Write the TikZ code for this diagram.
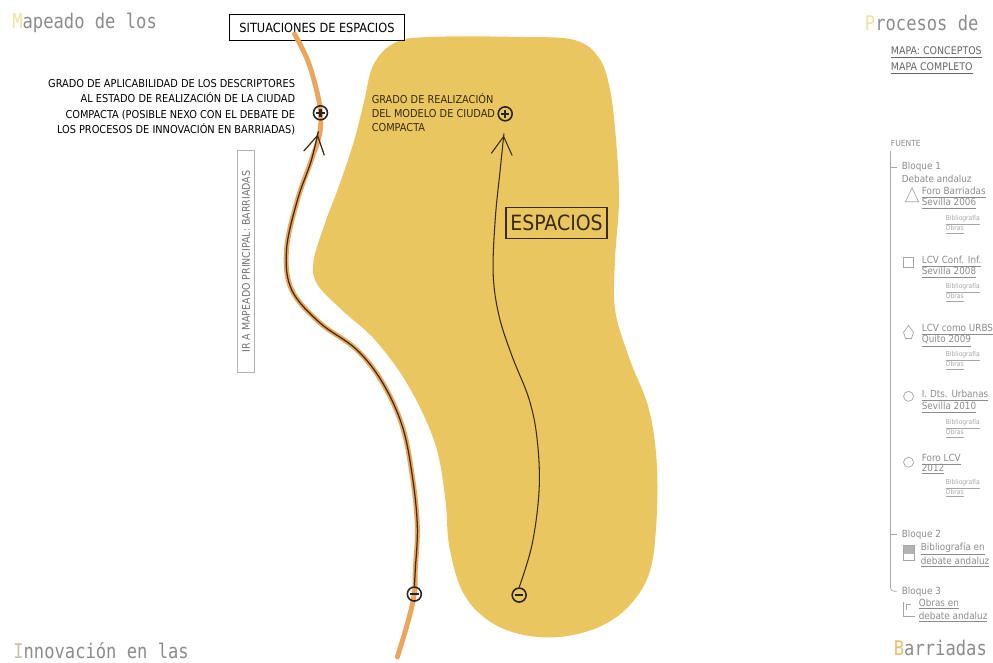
\documentclass[tikz,border=0pt]{standalone}
\usepackage{fontspec}
\newfontfamily\techfont{DejaVu Sans Condensed}
\newfontfamily\titlefont[FakeStretch=0.85]{DejaVu Sans Mono}
\usetikzlibrary{arrows.meta,positioning}
\definecolor{blobyellow}{RGB}{233,198,96}
\definecolor{bandorange}{RGB}{236,166,92}
\definecolor{inkbrown}{RGB}{58,42,16}
\definecolor{titlegray}{RGB}{140,140,140}
\definecolor{initpale}{RGB}{238,226,160}
\definecolor{initgold}{RGB}{236,190,104}
\definecolor{initgray}{RGB}{200,193,165}

\begin{document}
\begin{tikzpicture}[x=0.02cm, y=-0.02cm,
  >={Straight Barb[length=3.6mm,width=4.2mm]},
  title/.style={font=\titlefont\fontsize{11.5}{12}\selectfont, text=titlegray, inner sep=0pt, anchor=base west},
  tag/.style={draw=black, line width=0.8pt, font=\techfont\fontsize{7.2}{8}\selectfont, inner sep=0pt, minimum width=3.5cm, minimum height=0.52cm},
  hint/.style={font=\techfont\fontsize{6.2}{8.8}\selectfont, inner sep=0pt},
  sign/.style={circle, draw=black!85, line width=0.9pt, minimum size=0.28cm, inner sep=0pt},
  signplus/.style={sign, path picture={\draw[line width=1.4pt, black!85]
    ([xshift=-0.085cm]path picture bounding box.center) -- ([xshift=0.085cm]path picture bounding box.center)
    ([yshift=-0.085cm]path picture bounding box.center) -- ([yshift=0.085cm]path picture bounding box.center);}},
  signminus/.style={sign, path picture={\draw[line width=1.4pt, black!85]
    ([xshift=-0.085cm]path picture bounding box.center) -- ([xshift=0.085cm]path picture bounding box.center);}},
  band/.style={line width=2.8pt, bandorange, line cap=round},
  flow/.style={->, line width=0.7pt, inkbrown},
  side/.style={font=\techfont\fontsize{5.6}{6.2}\selectfont, text=black!45, inner sep=0pt, anchor=base west},
  subline/.style={font=\techfont\fontsize{3.8}{5.7}\selectfont, text=black!35, inner sep=0pt, anchor=base west},
  icon/.style={draw=black!35, line width=0.4pt},
  tree/.style={draw=black!35, line width=0.4pt},
]
  \path[fill=white] (0,0) rectangle (993,664);

  \node[title] (tmap) at (12,29) {\textcolor{initpale}{M}apeado de los};
  \node[title] (tproc) at (866,31) {\textcolor{initpale}{P}rocesos de};
  \node[title] (tinno) at (13,660) {\textcolor{initgray}{I}nnovación en las};
  \node[title] (tbarr) at (895,657) {\textcolor{initgold}{B}arriadas};

  \fill[blobyellow] plot[smooth cycle, tension=0.6] coordinates {(430,37) (520,37) (575,40) (600,58) (611,90) (617,140) (620,200) (616,260) (616,310) (630,358) (650,410) (658,467) (657,530) (650,575) (630,607) (600,628) (560,638) (520,635) (487,620) (463,592) (450,547) (446,500) (436,445) (410,388) (377,342) (343,311) (318,285) (314,262) (325,225) (340,185) (355,140) (365,100) (374,65) (395,43)};

  \node[tag] (sit) at (317.5,27.5) {SITUACIONES DE ESPACIOS};
  \draw[band] plot[smooth, tension=0.6] coordinates {(295,34) (308,60) (317,90) (321,113) (320,135) (312,160) (298,200) (287,250) (292,290) (320,323) (357,350) (383,383) (403,427) (413,477) (418,527) (416,570) (415,595) (408,625) (398,658)};

  \node[signplus] (p1) at (321,113) {};
  \node[signplus] (p2) at (506,114) {};
  \node[signminus] (m1) at (415,595) {};
  \node[signminus] (m2) at (520,596) {};

  \draw[flow, shorten >=0.28cm] plot[smooth, tension=0.6] coordinates {(m1.north) (416,570) (418,527) (413,477) (403,427) (383,383) (357,350) (320,323) (292,290) (287,250) (298,200) (312,160) (p1.south)};
  \draw[flow, line width=0.6pt, shorten >=0.28cm] plot[smooth, tension=0.6] coordinates {(m2.north) (533,545) (540,490) (538,440) (530,400) (513,357) (500,317) (494,275) (496,220) (501,170) (p2.south)};

  \node[hint, anchor=north east, align=right, text=black] (apl) at (296,79) {GRADO DE APLICABILIDAD DE LOS DESCRIPTORES\\AL ESTADO DE REALIZACIÓN DE LA CIUDAD\\COMPACTA (POSIBLE NEXO CON EL DEBATE DE\\LOS PROCESOS DE INNOVACIÓN EN BARRIADAS)};
  \node[hint, anchor=north west, align=left, text=inkbrown, font=\techfont\fontsize{6.2}{7.9}\selectfont] (real) at (372,93) {GRADO DE REALIZACIÓN\\DEL MODELO DE CIUDAD\\COMPACTA};
  \node[tag, draw=inkbrown, text=inkbrown, font=\techfont\fontsize{12}{14}\selectfont, minimum width=2.02cm, minimum height=0.62cm] (esp) at (557.5,223.5) {ESPACIOS};
  \node[draw=black!30, line width=0.5pt, text=black!55, font=\techfont\fontsize{6}{7}\selectfont, rotate=90, minimum width=4.46cm, minimum height=0.34cm, inner sep=0pt] (back) at (246.5,262) {IR A MAPEADO PRINCIPAL: BARRIADAS};

  \node[side, font=\techfont\fontsize{6}{7}\selectfont, text=black!60] (mapc) at (892,55) {\underline{MAPA: CONCEPTOS}};
  \node[side, font=\techfont\fontsize{6}{7}\selectfont, text=black!60] (mapf) at (892,71) {\underline{MAPA COMPLETO}};
  \node[side, font=\techfont\fontsize{4.8}{6}\selectfont] (fuente) at (892,147) {FUENTE};
  \node[side] (b1) at (903,170) {Bloque 1};
  \node[side] (deb) at (903,183) {Debate andaluz};

  \draw[icon] (907,202) -- (913.5,188) -- (920,202) -- cycle;
  \node[side] (i1a) at (923,195) {\underline{Foro Barriadas}};
  \node[side] (i1b) at (923,206) {\underline{Sevilla 2006}};
  \node[subline] (i1c) at (947,221) {\underline{Bibliografía}};
  \node[subline] (i1d) at (947,231) {\underline{Obras}};

  \draw[icon] (905,258) rectangle (915,268);
  \node[side] (i2a) at (923,264) {\underline{LCV Conf. Inf.}};
  \node[side] (i2b) at (923,275) {\underline{Sevilla 2008}};
  \node[subline] (i2c) at (947,289) {\underline{Bibliografía}};
  \node[subline] (i2d) at (947,299) {\underline{Obras}};

  \draw[icon] (905,333) -- (910,326) -- (915,333) -- (913,339) -- (907,339) -- cycle;
  \node[side] (i3a) at (923,332) {\underline{LCV como URBS}};
  \node[side] (i3b) at (923,343) {\underline{Quito 2009}};
  \node[subline] (i3c) at (947,357) {\underline{Bibliografía}};
  \node[subline] (i3d) at (947,367) {\underline{Obras}};

  \draw[icon] (910,397) circle[radius=5];
  \node[side] (i4a) at (923,398) {\underline{I. Dts. Urbanas}};
  \node[side] (i4b) at (923,410) {\underline{Sevilla 2010}};
  \node[subline] (i4c) at (947,425) {\underline{Bibliografía}};
  \node[subline] (i4d) at (947,435) {\underline{Obras}};

  \draw[icon] (910,463) circle[radius=5];
  \node[side] (i5a) at (923,462) {\underline{Foro LCV}};
  \node[side] (i5b) at (923,472) {\underline{2012}};
  \node[subline] (i5c) at (947,485) {\underline{Bibliografía}};
  \node[subline] (i5d) at (947,495) {\underline{Obras}};

  \node[side] (b2) at (903,538) {Bloque 2};
  \fill[black!30] (905,546) rectangle (916,555);
  \draw[icon] (905,546) rectangle (916,561);
  \node[side] (k2a) at (922,551) {\underline{Bibliografía en}};
  \node[side] (k2b) at (922,565) {\underline{debate andaluz}};

  \node[side] (b3) at (903,595) {Bloque 3};
  \draw[icon] (905,603) -- (905,617) -- (916,617) (908,611) -- (908,605) -- (912,605);
  \node[side] (k3a) at (920,607) {\underline{Obras en}};
  \node[side] (k3b) at (920,620) {\underline{debate andaluz}};

  \draw[tree] ([yshift=-0.08cm]fuente.south west) |- ([xshift=-0.1cm]b1.west);
  \draw[tree] ([yshift=-0.08cm]fuente.south west) |- ([xshift=-0.1cm]b2.west);
  \draw[tree, rounded corners=2pt] ([yshift=-0.08cm]fuente.south west) |- ([xshift=-0.1cm]b3.west);
\end{tikzpicture}
\end{document}
